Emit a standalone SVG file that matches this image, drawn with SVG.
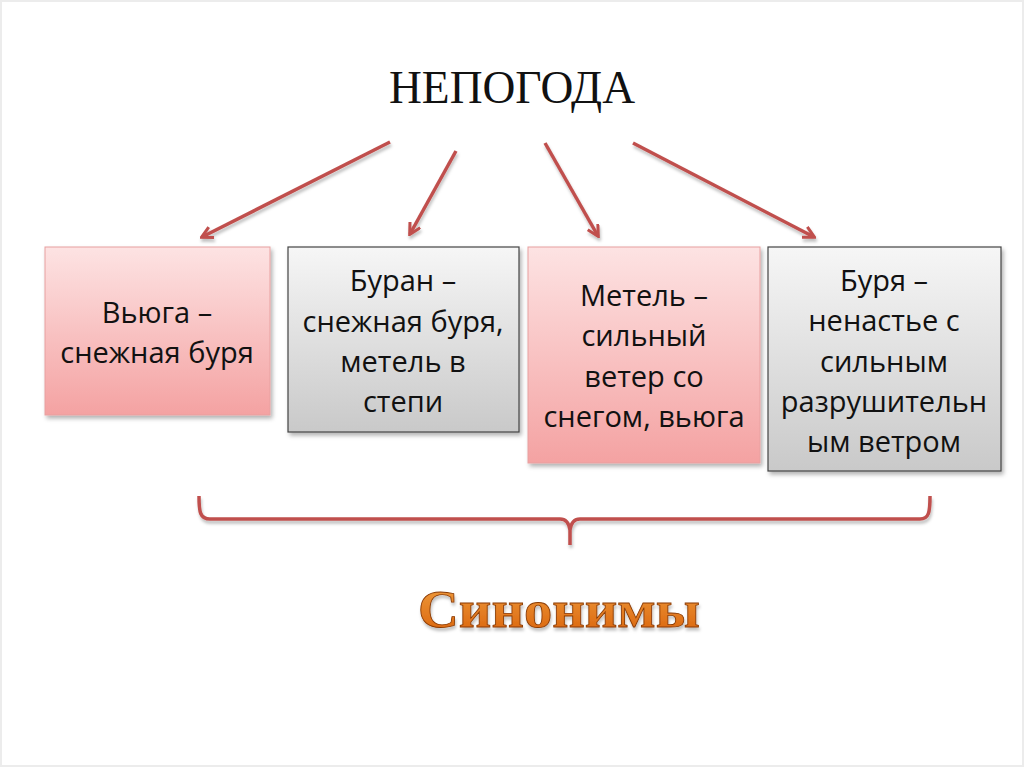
<svg xmlns="http://www.w3.org/2000/svg" width="1024" height="767" viewBox="0 0 1024 767">
<style>
.t{font-family:"Open Sans","Liberation Sans",sans-serif;font-size:29px;fill:#111;text-anchor:middle}
.conn{stroke:#c0504d;stroke-width:3.5;fill:none;marker-end:url(#ah)}
</style>
<defs>
<linearGradient id="pink" x1="0" y1="0" x2="0" y2="1">
<stop offset="0" stop-color="#fde3e3"/><stop offset="1" stop-color="#f4a2a2"/>
</linearGradient>
<linearGradient id="gray" x1="0" y1="0" x2="0" y2="1">
<stop offset="0" stop-color="#f6f6f6"/><stop offset="1" stop-color="#c9c9c9"/>
</linearGradient>
<linearGradient id="orange" x1="0" y1="0" x2="0" y2="1">
<stop offset="0" stop-color="#f0a040"/><stop offset="1" stop-color="#d9600a"/>
</linearGradient>
<filter id="sh" x="-10%" y="-10%" width="130%" height="130%">
<feDropShadow dx="2" dy="3" stdDeviation="2" flood-color="#000" flood-opacity="0.3"/>
</filter>
<filter id="sh2" x="-5%" y="-30%" width="110%" height="160%">
<feDropShadow dx="1" dy="3" stdDeviation="1.5" flood-color="#000" flood-opacity="0.25"/>
</filter>
<marker id="ah" markerWidth="14" markerHeight="14" refX="10" refY="6" orient="auto" markerUnits="userSpaceOnUse" viewBox="0 0 12 12">
<path d="M1,1 L10.5,6 L1,11" fill="none" stroke="#c0504d" stroke-width="2.6"/>
</marker>
</defs>
<rect x="0" y="0" width="1024" height="767" fill="#fff"/>
<rect x="1" y="1" width="1022" height="765" fill="none" stroke="#ececec" stroke-width="2"/>
<g id="title">
<text x="512" y="103" font-family="Liberation Serif,serif" font-size="46" fill="#111" text-anchor="middle" textLength="246" lengthAdjust="spacingAndGlyphs">НЕПОГОДА</text>
</g>
<g id="connectors" filter="url(#sh2)">
<line class="conn" x1="390" y1="142" x2="202" y2="237"/>
<line class="conn" x1="456" y1="151" x2="410" y2="234"/>
<line class="conn" x1="545" y1="143" x2="598" y2="236"/>
<line class="conn" x1="633" y1="143" x2="814" y2="237"/>
</g>
<g id="n1">
<rect x="45" y="247" width="225" height="168" fill="url(#pink)" stroke="#e8a0a0" stroke-width="1" filter="url(#sh)"/>
<text class="t" x="157" y="323">Вьюга –</text>
<text class="t" x="157" y="363">снежная буря</text>
</g>
<g id="n2">
<rect x="288" y="247" width="231" height="185" fill="url(#gray)" stroke="#444" stroke-width="1.2" filter="url(#sh)"/>
<text class="t" x="403" y="291">Буран –</text>
<text class="t" x="403" y="332">снежная буря,</text>
<text class="t" x="403" y="372">метель в</text>
<text class="t" x="403" y="412">степи</text>
</g>
<g id="n3">
<rect x="528" y="247" width="232" height="216" fill="url(#pink)" stroke="#e8a0a0" stroke-width="1" filter="url(#sh)"/>
<text class="t" x="644" y="306">Метель –</text>
<text class="t" x="644" y="346">сильный</text>
<text class="t" x="644" y="387">ветер со</text>
<text class="t" x="644" y="427">снегом, вьюга</text>
</g>
<g id="n4">
<rect x="768" y="247" width="233" height="224" fill="url(#gray)" stroke="#444" stroke-width="1.2" filter="url(#sh)"/>
<text class="t" x="884" y="291">Буря –</text>
<text class="t" x="884" y="331">ненастье с</text>
<text class="t" x="884" y="372">сильным</text>
<text class="t" x="884" y="412">разрушительн</text>
<text class="t" x="884" y="452">ым ветром</text>
</g>
<g id="brace" filter="url(#sh2)">
<path d="M199,496 C199,512 200,519 210,519 L560,519 C566,519 569,523 570,530 L570,545 M570,530 C571,523 574,519 580,519 L920,519 C929,519 930,512 930,496" fill="none" stroke="#c0504d" stroke-width="3.5"/>
</g>
<g id="label">
<text x="559" y="627" font-family="Liberation Serif,serif" font-weight="bold" font-size="52" fill="url(#orange)" stroke="#8a3a05" stroke-width="0.8" text-anchor="middle" textLength="282" lengthAdjust="spacingAndGlyphs" filter="url(#sh2)">Синонимы</text>
</g>
</svg>
